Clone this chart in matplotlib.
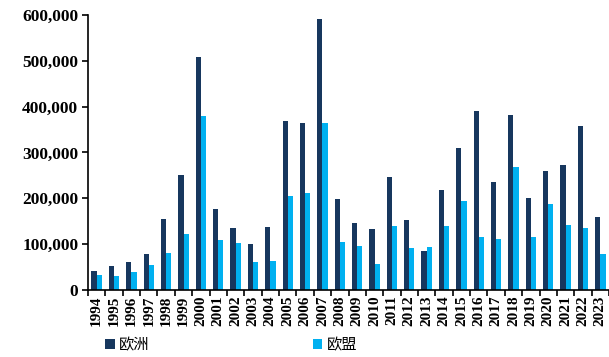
import matplotlib
matplotlib.use("Agg")
import matplotlib.pyplot as plt
from matplotlib.ticker import FuncFormatter, MultipleLocator
import numpy as np

years = [str(y) for y in range(1994, 2024)]

europe = [42000, 53000, 60000, 78500, 154000, 250000, 508000, 177000, 134000, 100000,
          137000, 368000, 365000, 591000, 198000, 146000, 132000, 246000, 153000, 85000,
          218000, 310000, 390000, 236000, 381000, 200000, 260000, 272000, 357000, 158000]

eu = [32700, 30500, 40000, 54000, 81000, 123000, 380000, 109000, 102000, 60000,
      62500, 204000, 212000, 364000, 104000, 95000, 57000, 140000, 92000, 94000,
      140000, 195000, 116000, 110000, 268000, 116000, 188000, 142000, 134000, 78500]

dark = "#17375E"
light = "#00B0F0"

fig = plt.figure(figsize=(6.09, 3.57), dpi=100)
ax = fig.add_axes([0.1445, 0.188, 0.8555, 0.77])

x = np.arange(len(years))
w = 0.3
ax.bar(x - w / 2, europe, width=w, color=dark, label="欧洲")
ax.bar(x + w / 2, eu, width=w, color=light, label="欧盟")

ax.set_xlim(-0.5, len(years) - 0.5)
ax.set_ylim(0, 600000)
ax.yaxis.set_major_locator(MultipleLocator(100000))
ax.yaxis.set_major_formatter(FuncFormatter(lambda v, p: f"{int(v):,}"))

ax.set_xticks(x)
ax.set_xticklabels(years, rotation=90, fontsize=11, fontweight="bold",
                   family="Liberation Serif")
ax.set_xticks(np.arange(len(years) + 1) - 0.5, minor=True)
ax.tick_params(axis="x", which="major", length=0, pad=4)
ax.tick_params(axis="x", which="minor", length=4, width=1.2, direction="out")
ax.tick_params(axis="y", length=4, width=1.2, direction="out", pad=3)
for lab in ax.get_yticklabels():
    lab.set_family("Liberation Serif")
    lab.set_fontweight("bold")
    lab.set_fontsize(12.5)

for s in ["top", "right"]:
    ax.spines[s].set_visible(False)
ax.spines["left"].set_linewidth(1.2)
ax.spines["bottom"].set_linewidth(1.2)

fig.legend(loc="center", bbox_to_anchor=(0.38, 0.033), ncol=2, frameon=False,
           prop={"family": ["Noto Sans CJK SC", "DejaVu Sans"], "size": 11},
           handlelength=0.6, handleheight=0.6, handletextpad=0.3,
           columnspacing=10.7)

fig.savefig("out.png", dpi=100)
